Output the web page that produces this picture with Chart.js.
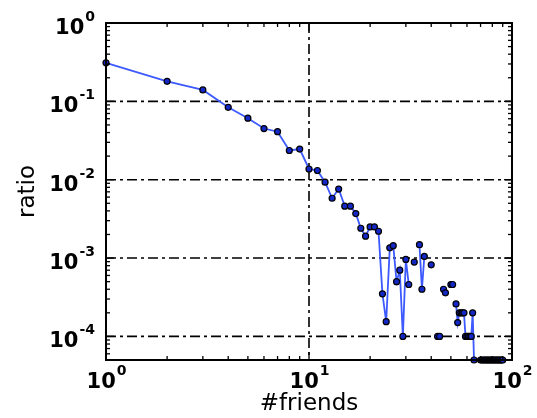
<!DOCTYPE html>
<html>
<head>
<meta charset="utf-8">
<script src="https://cdn.jsdelivr.net/npm/chart.js@4.4.1/dist/chart.umd.min.js"></script>
<style>
  html, body { margin: 0; padding: 0; background: #fff; }
  #wrap { width: 537px; height: 418px; }
</style>
</head>
<body>
<div id="wrap"><canvas id="myChart" width="537" height="418"></canvas></div>
<script>
// #friends (x) and ratio (y); null = no users with that count (gap on log scale)
const friends = [];
for (let i = 1; i <= 90; i++) friends.push(i);
const ratio = [
  0.31, 0.18, 0.14, 0.084, 0.061, 0.045, 0.041, 0.0236, 0.0246, 0.0137,
  0.0131, 0.0093, 0.0058, 0.0076, 0.0046, 0.0046, 0.0037, 0.0024, 0.0019, 0.0025,
  0.0025, 0.0022, 0.00035, 0.000154, 0.00135, 0.00144, 0.0005, 0.0007, 0.0001, 0.00096,
  0.00046, null, 0.00089, null, 0.00148, 0.0004, 0.00105, null, null, 0.00082,
  null, null, 0.0001, 0.0001, null, 0.0004, 0.00036, null, null, 0.00046,
  0.00046, null, 0.00026, 0.00015, 0.0002, 0.0002, 0.0002, 0.0002, 0.0001, 0.0001,
  0.0001, 0.0001, 0.0001, 0.0002, 0.00005, null, null, null, null, 0.00005,
  0.00005, 0.00005, 0.00005, 0.00005, 0.00005, 0.00005, 0.00005, 0.00005, 0.00005, 0.00005,
  0.00005, 0.00005, 0.00005, 0.00005, 0.00005, 0.00005, 0.00005, 0.00005, 0.00005, 0.00005
];

// tick exponents (labels are 10^exp)
const xTickExps = [0, 1, 2];
const yTickExps = [0, -1, -2, -3, -4];
const xRange = [1, 100];
const yRange = [5e-5, 1];

const points = friends.map((f, i) => ({ x: f, y: ratio[i] }));

function strokeLine(ctx, x1, y1, x2, y2) {
  ctx.beginPath();
  ctx.moveTo(x1, y1);
  ctx.lineTo(x2, y2);
  ctx.stroke();
}

// log ticks inside the range: majors at powers of ten, minors at 2..9
function logTicks(lo, hi) {
  const out = [];
  for (let e = Math.floor(Math.log10(lo)); e <= Math.ceil(Math.log10(hi)); e++) {
    for (let m = 1; m <= 9; m++) {
      const v = m * Math.pow(10, e);
      if (v >= lo * 0.999 && v <= hi * 1.001) out.push({ v, major: m === 1 });
    }
  }
  return out;
}

const frameAndTicks = {
  id: 'frameAndTicks',
  beforeDatasetsDraw(chart) {
    const { ctx, chartArea: a, scales: { x, y } } = chart;
    ctx.save();
    ctx.strokeStyle = '#000';
    ctx.lineWidth = 1.6;
    ctx.setLineDash([10, 4, 3, 4]);
    xTickExps.forEach(e => {
      const px = x.getPixelForValue(Math.pow(10, e));
      if (px > a.left + 2 && px < a.right - 2) strokeLine(ctx, px, a.top, px, a.bottom);
    });
    yTickExps.forEach(e => {
      const py = y.getPixelForValue(Math.pow(10, e));
      if (py > a.top + 2 && py < a.bottom - 2) strokeLine(ctx, a.left, py, a.right, py);
    });
    ctx.restore();
  },
  afterDatasetsDraw(chart) {
    const { ctx, chartArea: a, scales: { x, y } } = chart;
    ctx.save();
    ctx.strokeStyle = '#000';
    ctx.setLineDash([]);

    // inward tick marks on all four sides
    ctx.lineWidth = 1.3;
    logTicks(xRange[0], xRange[1]).forEach(t => {
      const px = x.getPixelForValue(t.v);
      const len = t.major ? 8 : 4;
      strokeLine(ctx, px, a.bottom, px, a.bottom - len);
      strokeLine(ctx, px, a.top, px, a.top + len);
    });
    logTicks(yRange[0], yRange[1]).forEach(t => {
      const py = y.getPixelForValue(t.v);
      const len = t.major ? 8 : 4;
      strokeLine(ctx, a.left, py, a.left + len, py);
      strokeLine(ctx, a.right, py, a.right - len, py);
    });

    // frame
    ctx.lineWidth = 2;
    ctx.strokeRect(a.left, a.top, a.right - a.left, a.bottom - a.top);

    // tick labels 10^n
    const baseFont = 'bold 21px "DejaVu Sans"';
    const expFont = 'bold 14px "DejaVu Sans"';
    ctx.fillStyle = '#000';
    ctx.textBaseline = 'alphabetic';
    ctx.textAlign = 'left';

    xTickExps.forEach(e => {
      const px = x.getPixelForValue(Math.pow(10, e));
      const exp = String(e);
      ctx.font = baseFont;
      const wb = ctx.measureText('10').width;
      ctx.font = expFont;
      const we = ctx.measureText(exp).width;
      const x0 = px - (wb + we) / 2;
      ctx.font = baseFont;
      ctx.fillText('10', x0, a.bottom + 28);
      ctx.font = expFont;
      ctx.fillText(exp, x0 + wb + 1, a.bottom + 15);
    });

    yTickExps.forEach(e => {
      const py = y.getPixelForValue(Math.pow(10, e));
      const exp = String(e);
      ctx.font = baseFont;
      const wb = ctx.measureText('10').width;
      ctx.font = expFont;
      const we = ctx.measureText(exp).width;
      const right = a.left - 11;
      ctx.font = baseFont;
      ctx.fillText('10', right - we - wb - 1, py + 11);
      ctx.font = expFont;
      ctx.fillText(exp, right - we, py - 2);
    });
    ctx.restore();
  }
};

const ctx = document.getElementById('myChart').getContext('2d');

new Chart(ctx, {
  type: 'line',
  data: {
    datasets: [{
      label: 'ratio',
      data: points,
      borderColor: 'rgb(60, 90, 255)',
      borderWidth: 1.8,
      pointRadius: 3,
      pointBackgroundColor: 'rgb(20, 40, 200)',
      pointBorderColor: '#000',
      pointBorderWidth: 1.2,
      spanGaps: false,
      tension: 0,
      clip: false
    }]
  },
  options: {
    responsive: false,
    animation: false,
    devicePixelRatio: 1,
    layout: { padding: { top: 23, right: 25, left: 0, bottom: 0 } },
    plugins: { legend: { display: false }, tooltip: { enabled: false } },
    scales: {
      x: {
        type: 'logarithmic',
        min: xRange[0],
        max: xRange[1],
        grid: { display: false },
        border: { display: false },
        ticks: { display: false },
        title: {
          display: true,
          text: '#friends',
          color: '#000',
          font: { family: 'DejaVu Sans', size: 23 },
          padding: { top: 0, bottom: 0 }
        },
        afterFit(scale) { scale.height = 58; }
      },
      y: {
        type: 'logarithmic',
        min: yRange[0],
        max: yRange[1],
        grid: { display: false },
        border: { display: false },
        ticks: { display: false },
        title: {
          display: true,
          text: 'ratio',
          color: '#000',
          font: { family: 'DejaVu Sans', size: 23 },
          padding: { top: 14, bottom: 0 }
        },
        afterFit(scale) { scale.width = 106; }
      }
    }
  },
  plugins: [frameAndTicks]
});
</script>
</body>
</html>
